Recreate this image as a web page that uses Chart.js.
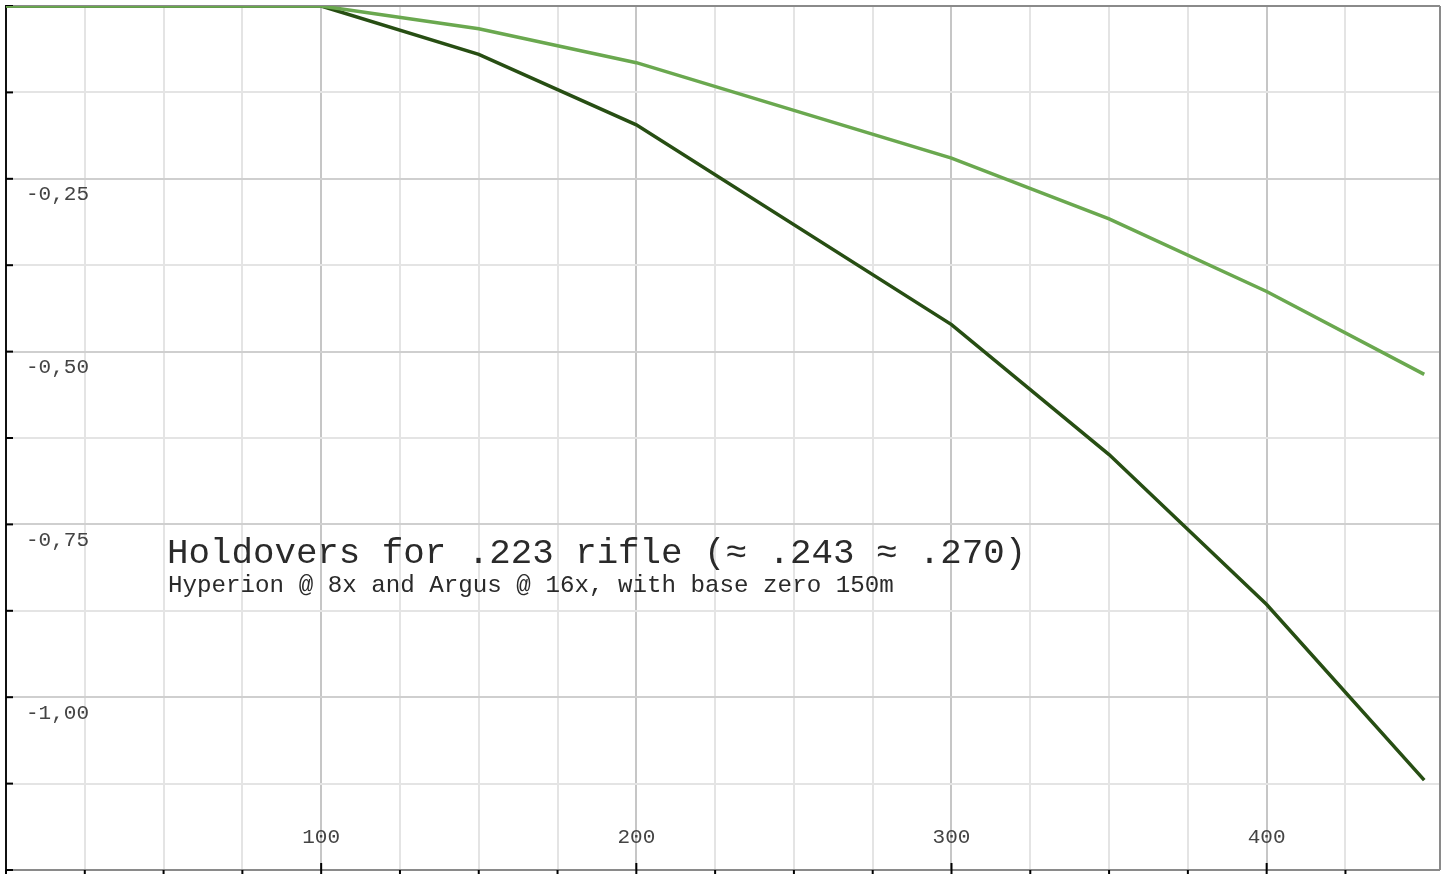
<!DOCTYPE html>
<html>
<head>
<meta charset="utf-8">
<script src="https://cdn.jsdelivr.net/npm/chart.js@4/dist/chart.umd.min.js"></script>
<style>
html,body{margin:0;padding:0;background:#fff;}
#wrap{width:1447px;height:877px;}
</style>
</head>
<body>
<div id="wrap"><canvas id="c" width="1447" height="877"></canvas></div>
<script>
const distances = [0, 100, 150, 200, 300, 350, 400, 450];
const argus16x = [0, 0, -0.07, -0.172, -0.461, -0.649, -0.866, -1.12];
const hyperion8x = [0, 0, -0.033, -0.082, -0.22, -0.308, -0.413, -0.533];
const xTickLabels = ['100', '200', '300', '400'];
const xTickValues = [100, 200, 300, 400];
const yTickLabels = ['-0,25', '-0,50', '-0,75', '-1,00'];
const yTickValues = [-0.25, -0.5, -0.75, -1.0];
const titleText = 'Holdovers for .223 rifle (\u2248 .243 \u2248 .270)';
const subtitleText = 'Hyperion @ 8x and Argus @ 16x, with base zero 150m';

const toPts = arr => distances.map((d, i) => ({x: d, y: arr[i]}));
const MONO = '"Liberation Mono", "Courier New", "DejaVu Sans Mono", monospace';

const decor = {
  id: 'decor',
  beforeDatasetsDraw(chart) {
    const {ctx, chartArea: a, scales: {x, y}} = chart;
    ctx.save();
    ctx.strokeStyle = '#8a8a8a';
    ctx.lineWidth = 2;
    ctx.beginPath();
    ctx.moveTo(a.left, a.top); ctx.lineTo(a.right, a.top);
    ctx.moveTo(a.right, a.top); ctx.lineTo(a.right, a.bottom);
    ctx.moveTo(a.left, a.bottom); ctx.lineTo(a.right, a.bottom);
    ctx.stroke();
    ctx.strokeStyle = '#111';
    ctx.beginPath();
    ctx.moveTo(a.left, a.top - 1); ctx.lineTo(a.left, a.bottom);
    ctx.stroke();
    ctx.strokeStyle = '#000';
    ctx.lineWidth = 2;
    y.ticks.forEach(t => {
      const py = y.getPixelForValue(t.value);
      ctx.beginPath(); ctx.moveTo(a.left, py); ctx.lineTo(a.left + 7, py); ctx.stroke();
    });
    x.ticks.forEach(t => {
      if (t.value > 450) return;
      const px = x.getPixelForValue(t.value);
      const major = t.value % 100 === 0 && t.value > 0;
      ctx.beginPath();
      ctx.moveTo(px, a.bottom + 4);
      ctx.lineTo(px, major ? a.bottom - 7 : a.bottom);
      ctx.stroke();
    });
    ctx.restore();
  },
  afterDraw(chart) {
    const {ctx, chartArea: a, scales: {x, y}} = chart;
    ctx.save();
    ctx.fillStyle = '#444';
    ctx.font = '21px ' + MONO;
    ctx.textBaseline = 'middle';
    ctx.textAlign = 'left';
    yTickValues.forEach((v, i) => {
      ctx.fillText(yTickLabels[i], a.left + 20, y.getPixelForValue(v) + 16);
    });
    ctx.textAlign = 'center';
    xTickValues.forEach((v, i) => {
      ctx.fillText(xTickLabels[i], x.getPixelForValue(v), a.bottom - 33);
    });
    ctx.textAlign = 'left';
    ctx.textBaseline = 'alphabetic';
    ctx.fillStyle = '#2a2a2a';
    ctx.font = '35.8px ' + MONO;
    ctx.fillText(titleText, 167, 563);
    ctx.font = '24.2px ' + MONO;
    ctx.fillText(subtitleText, 168, 592);
    ctx.restore();
  }
};

new Chart(document.getElementById('c'), {
  type: 'line',
  data: {
    datasets: [
      {label: 'Hyperion @ 8x', data: toPts(hyperion8x), borderColor: '#6aa84f', borderWidth: 3.5, pointRadius: 0, tension: 0},
      {label: 'Argus @ 16x', data: toPts(argus16x), borderColor: '#274e13', borderWidth: 3.5, pointRadius: 0, tension: 0}
    ]
  },
  options: {
    responsive: false,
    animation: false,
    layout: {padding: {left: 6, top: 6, right: 7, bottom: 7}},
    plugins: {legend: {display: false}, tooltip: {enabled: false}, title: {display: false}},
    scales: {
      x: {
        type: 'linear', min: 0, max: 455,
        ticks: {display: false, stepSize: 25},
        border: {display: false},
        grid: {
          drawTicks: false, lineWidth: 2,
          color: c => (c.tick && c.tick.value % 100 === 0) ? '#c6c6c6' : '#e4e4e4'
        }
      },
      y: {
        type: 'linear', min: -1.25, max: 0,
        ticks: {display: false, stepSize: 0.125},
        border: {display: false},
        grid: {
          drawTicks: false, lineWidth: 2,
          color: c => (c.tick && Math.abs(c.tick.value * 4 - Math.round(c.tick.value * 4)) < 1e-6) ? '#cfcfcf' : '#e4e4e4'
        }
      }
    }
  },
  plugins: [decor]
});
</script>
</body>
</html>
